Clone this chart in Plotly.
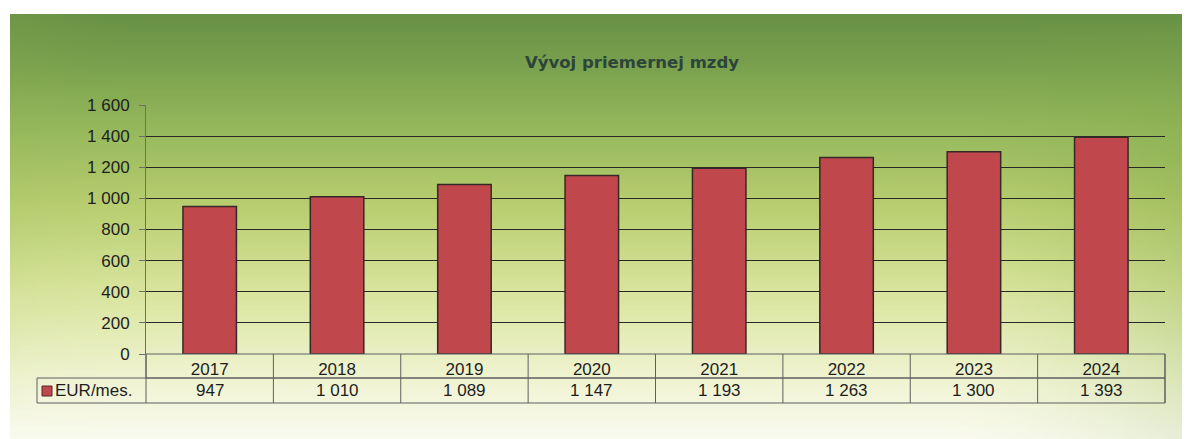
import base64
import struct
import zlib

import plotly.graph_objects as go

# ---------------- data ----------------
years = ["2017", "2018", "2019", "2020", "2021", "2022", "2023", "2024"]
wages = [947, 1010, 1089, 1147, 1193, 1263, 1300, 1393]
series_name = "EUR/mes."
title_text = "Vývoj priemernej mzdy"
y_ticks = [0, 200, 400, 600, 800, 1000, 1200, 1400, 1600]

# ---------------- geometry (absolute page pixels) ----------------
OFF = 8                      # browser body margin
W, H = 1190 - OFF, 439 - OFF  # figure size
PL, PR, PT, PB = 146, 1165, 105, 354  # plot area on the page
PW, PH = PR - PL, PB - PT


def px_x(px):
    return (px - PL) / PW


def px_y(py):
    return (PB - py) / PH


# ---------------- background gradient image ----------------
def lerp(a, b, t):
    return tuple(a[i] + (b[i] - a[i]) * t for i in range(3))


v_stops = [
    (0.00, (104, 146, 68)),
    (0.10, (118, 158, 76)),
    (0.25, (146, 182, 90)),
    (0.45, (184, 206, 112)),
    (0.65, (216, 228, 156)),
    (0.85, (239, 243, 207)),
    (1.00, (249, 250, 238)),
]


def base_col(v):
    for i in range(len(v_stops) - 1):
        v0, c0 = v_stops[i]
        v1, c1 = v_stops[i + 1]
        if v <= v1:
            return lerp(c0, c1, (v - v0) / (v1 - v0))
    return v_stops[-1][1]


def col(u, v):
    c = base_col(v)
    r = max(0.0, (u - 0.8) / 0.2) ** 1.5
    amt = 0.5 * r * max(0.0, min(1.0, v * 3)) * (1 - v * 0.7)
    c = lerp(c, (128, 168, 70), amt)
    l = max(0.0, (0.12 - u) / 0.12) ** 2
    c = lerp(c, (150, 180, 85), 0.15 * l * (1 - v))
    return tuple(int(max(0, min(255, round(x)))) for x in c)


def make_png(w, h):
    rows = []
    for j in range(h):
        v = j / (h - 1)
        row = bytearray(b"\x00")
        for i in range(w):
            u = i / (w - 1)
            row.extend(col(u, v))
        rows.append(bytes(row))
    raw = b"".join(rows)

    def chunk(tag, data):
        return (struct.pack(">I", len(data)) + tag + data
                + struct.pack(">I", zlib.crc32(tag + data) & 0xFFFFFFFF))

    png = b"\x89PNG\r\n\x1a\n"
    png += chunk(b"IHDR", struct.pack(">IIBBBBB", w, h, 8, 2, 0, 0, 0))
    png += chunk(b"IDAT", zlib.compress(raw, 9))
    png += chunk(b"IEND", b"")
    return "data:image/png;base64," + base64.b64encode(png).decode()


bg_src = make_png(236, 85)
G_L, G_T, G_R, G_B = 10, 14, 1190, 439

# ---------------- figure ----------------
fig = go.Figure()
fig.add_trace(go.Bar(
    x=years, y=wages, name=series_name,
    marker=dict(color="rgb(192,71,75)", line=dict(color="rgb(55,40,40)", width=1.5)),
    hoverinfo="x+y",
))

TEXT = "#1e1e1e"
FONT = "Liberation Sans, Arial, sans-serif"
LINE = "rgb(95,95,95)"
n = len(years)

shapes = []
annotations = []

row1_top, row1_bot, row2_bot = PB, 378, 403
# header row (years) border
shapes.append(dict(type="rect", xref="paper", yref="paper",
                   x0=0, x1=1, y0=px_y(row1_bot), y1=px_y(row1_top),
                   line=dict(color=LINE, width=1), fillcolor="rgba(0,0,0,0)"))
# value row incl. legend cell
shapes.append(dict(type="rect", xref="paper", yref="paper",
                   x0=px_x(37), x1=1, y0=px_y(row2_bot), y1=px_y(row1_bot),
                   line=dict(color=LINE, width=1), fillcolor="rgba(0,0,0,0)"))
# column separators
for k in range(n + 1):
    shapes.append(dict(type="line", xref="paper", yref="paper",
                       x0=k / n, x1=k / n, y0=px_y(row2_bot), y1=px_y(row1_top),
                       line=dict(color=LINE, width=1)))
# legend swatch
shapes.append(dict(type="rect", xref="paper", yref="paper",
                   x0=px_x(42), x1=px_x(52), y0=px_y(396), y1=px_y(386),
                   line=dict(color="rgb(80,40,45)", width=1), fillcolor="rgb(192,71,75)"))

annotations.append(dict(text=series_name, xref="paper", yref="paper",
                        x=px_x(53), y=px_y(390.5), xanchor="left", yanchor="middle",
                        showarrow=False, font=dict(family=FONT, size=17, color=TEXT)))
for i, val in enumerate(wages):
    annotations.append(dict(text=f"{val:,}".replace(",", " "), xref="paper", yref="paper",
                            x=(i + 0.5) / n, y=px_y(390.5), xanchor="center", yanchor="middle",
                            showarrow=False, font=dict(family=FONT, size=17, color=TEXT)))

annotations.append(dict(text="<b>" + title_text + "</b>", xref="paper", yref="paper",
                        x=px_x(631.5), y=px_y(62), xanchor="center", yanchor="middle",
                        showarrow=False,
                        font=dict(family="DejaVu Sans, Verdana, sans-serif", size=16.5,
                                  color="rgb(45,68,58)")))

fig.update_layout(
    width=W, height=H,
    margin=dict(l=PL - OFF, r=W - (PR - OFF), t=PT - OFF, b=H - (PB - OFF)),
    paper_bgcolor="white",
    plot_bgcolor="white",
    separators=", ",
    showlegend=False,
    bargap=0.58,
    font=dict(family=FONT, size=17, color=TEXT),
    images=[dict(source=bg_src, xref="paper", yref="paper",
                 x=px_x(G_L), y=px_y(G_T), sizex=(G_R - G_L) / PW, sizey=(G_B - G_T) / PH,
                 xanchor="left", yanchor="top", sizing="stretch", layer="below")],
    shapes=shapes,
    annotations=annotations,
    xaxis=dict(type="category", showticklabels=True, ticks="", showgrid=False,
               showline=False, zeroline=False, range=[-0.5, n - 0.5],
               ticklabelstandoff=3,
               tickfont=dict(family=FONT, size=17, color=TEXT),
               fixedrange=True),
    yaxis=dict(range=[0, 1600], tickvals=y_ticks, tickformat=",d",
               showgrid=True, gridcolor="rgb(40,40,40)", gridwidth=1,
               zeroline=False, showline=True, linecolor="rgb(110,110,110)", linewidth=1,
               ticks="outside", ticklen=6, tickcolor="rgb(110,110,110)",
               ticklabelstandoff=6,
               tickfont=dict(family=FONT, size=17, color=TEXT), fixedrange=True),
)

fig.write_html("out.html")
